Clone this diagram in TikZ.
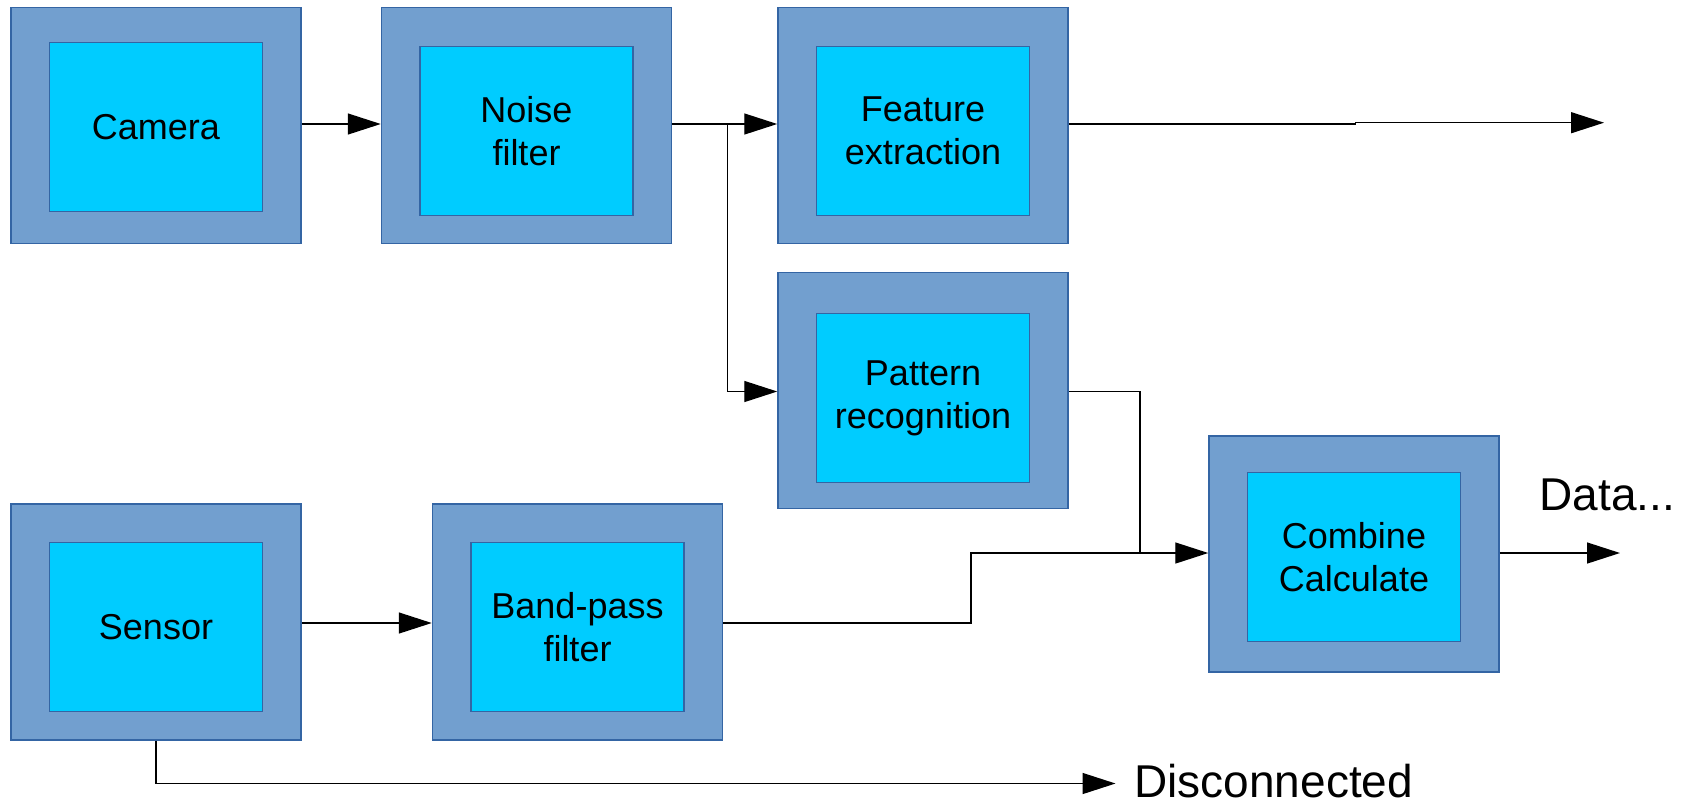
\documentclass[tikz,border=0pt]{standalone}
\usepackage{fontspec}
\setmainfont{Liberation Sans}
\usetikzlibrary{arrows.meta,positioning}
\definecolor{frameblue}{HTML}{729FCF}
\definecolor{coreblue}{HTML}{00CCFF}
\definecolor{edgeblue}{HTML}{3465A4}
\tikzset{
  outerbox/.style={draw=edgeblue, line width=0.75pt, fill=frameblue,
    minimum width=145pt, minimum height=118pt, inner sep=0pt},
  innerbox/.style={draw=edgeblue, line width=0.75pt, fill=coreblue,
    minimum width=106.5pt, minimum height=84.5pt, inner sep=0pt, align=center,
    font=\fontsize{18}{21.6}\selectfont},
  flow/.style={draw=black, line width=0.7pt,
    -{Triangle[length=16.5pt,width=10.5pt]}},
  wire/.style={draw=black, line width=0.7pt},
  tag/.style={font=\fontsize{23}{27.6}\selectfont, inner sep=0pt}
}
\begin{document}
\begin{tikzpicture}[x=0.5pt,y=-0.5pt]
  \useasboundingbox (0,0) rectangle (1690,804);

  % processing blocks: frame plus core
  \node[outerbox] (camO)  at (156,125.5) {};
  \node[innerbox] (cam)   at (156,127) {\raisebox{-2pt}{Camera}};
  \node[outerbox] (noiO)  at (526.5,125.5) {};
  \node[innerbox] (noi)   at (526.5,131) {Noise\\filter};
  \node[outerbox] (feaO)  at (923,125.5) {};
  \node[innerbox] (fea)   at (923,131) {Feature\\extraction};
  \node[outerbox] (patO)  at (923,390.5) {};
  \node[innerbox] (pat)   at (923,398) {Pattern\\recognition};
  \node[outerbox] (comO)  at (1354,554) {};
  \node[innerbox] (com)   at (1354,557) {Combine\\Calculate};
  \node[outerbox] (senO)  at (156,622) {};
  \node[innerbox] (sen)   at (156,627) {Sensor};
  \node[outerbox] (banO)  at (577.5,622) {};
  \node[innerbox] (ban)   at (577.5,627) {Band-pass\\filter};

  % free ends and labels
  \coordinate (feaEnd) at (1604,122.7);
  \coordinate (comEnd) at (1620,553);
  \coordinate (discEnd) at (1115.5,783.5);
  \node[tag, anchor=west] (data) at (1539,495) {Data...};
  \node[tag, anchor=west] (disc) at (1134,781) {Disconnected};

  % routing points
  \coordinate (split) at (727.5,124);
  \coordinate (join)  at (1140,553);

  % connectors
  \draw[flow] (camO.east |- 0,124) -- (noiO.west |- 0,124);
  \draw[wire] (noiO.east |- 0,124) -- (split);
  \draw[flow] (split) -- (feaO.west |- 0,124);
  \draw[flow] (split) |- (patO.west |- 0,391.5);
  \draw[wire] (feaO.east |- 0,124) -- (1355,124) -- (1355,122.7);
  \draw[flow] (1355,122.7) -- (feaEnd);
  \draw[wire] (patO.east |- 0,391.5) -| (join);
  \draw[flow] (banO.east |- 0,623) -| (971,553) -- (comO.west |- 0,553);
  \draw[flow] (senO.east |- 0,623) -- (banO.west |- 0,623);
  \draw[flow] (comO.east |- 0,553) -- (comEnd);
  \draw[flow] (senO.south) |- (discEnd);
\end{tikzpicture}
\end{document}
